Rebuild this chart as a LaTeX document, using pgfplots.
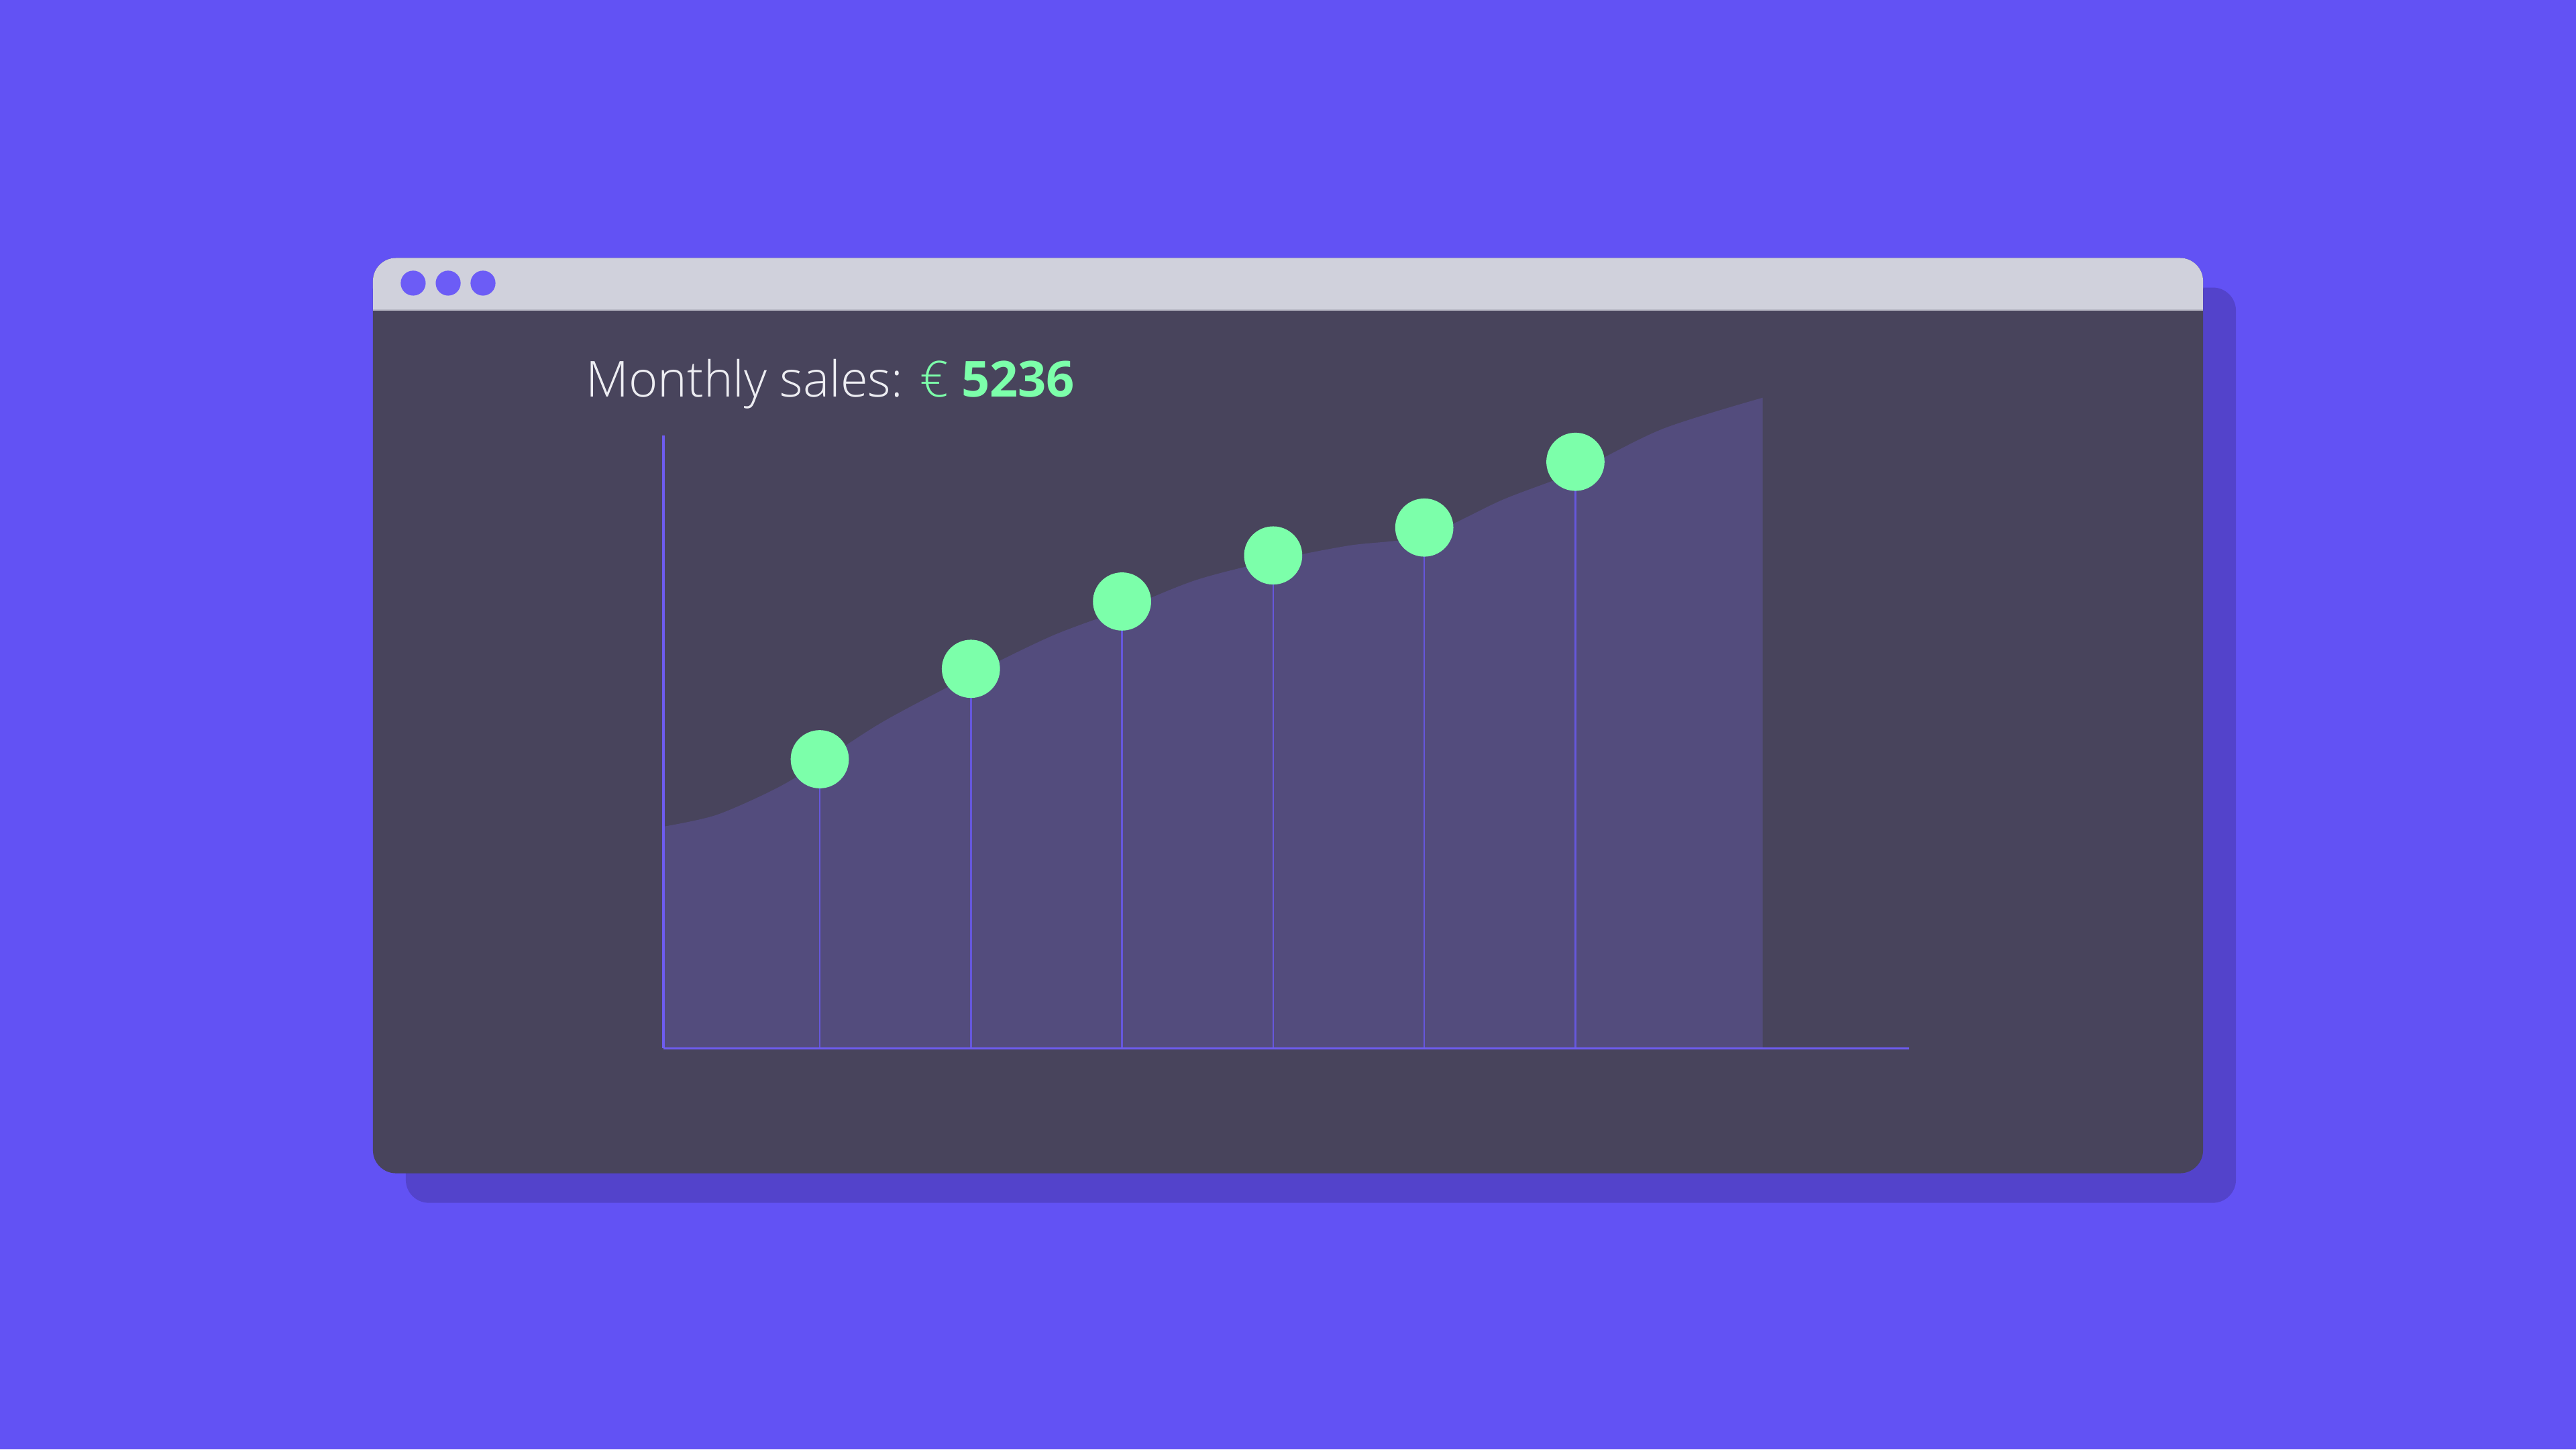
\documentclass[border=0pt]{standalone}
\usepackage{pgfplots}
\pgfplotsset{compat=1.18}
\usepackage{pgfplotstable}
\usepackage{fontspec}
\setmainfont{Open Sans}
\newfontfamily\lightfont{Open Sans Light}
\definecolor{bg}{HTML}{6252F4}
\definecolor{shadowc}{HTML}{5343CB}
\definecolor{body}{HTML}{48445C}
\definecolor{titlebar}{HTML}{D0D1DC}
\definecolor{tbline}{HTML}{B9B9C6}
\definecolor{dotc}{HTML}{6C5CF6}
\definecolor{areacol}{HTML}{534C7D}
\definecolor{axcol}{HTML}{6E5CF0}
\definecolor{stemcol}{HTML}{6657DC}
\definecolor{greenc}{HTML}{7CFFAA}
\definecolor{textc}{HTML}{EDEDF2}

\pgfplotstableread{
x y
-0.033 1980
0.315 2083
0.707 2317
1.0 2552
1.424 2920
2.0 3330
2.533 3680
3.0 3916
3.489 4180
4.0 4356
4.5 4488
5.0 4576
5.522 4899
6.0 5148
6.576 5529
7.239 5808
}\curvetab

\pgfplotstableread{
x y
1 2581
2 3388
3 3989
4 4400
5 4649
6 5236
}\pointtab

\begin{document}
\begin{tikzpicture}[x=0.1mm,y=0.1mm]
% background
\fill[bg] (0,0) rectangle (1568,882);
% shadow
\fill[shadowc, rounded corners=4] (247,150) rectangle (1361,707);
% window body
\fill[body, rounded corners=4] (227,168) rectangle (1341,725);
% title bar
\fill[titlebar, rounded corners=4] (227,693) rectangle (1341,725);
\fill[titlebar] (227,693) rectangle (1341,705);
\draw[tbline, line width=0.08mm] (227,693.3) -- (1341,693.3);
\fill[dotc] (251.5,709.7) circle (7.6);
\fill[dotc] (272.8,709.7) circle (7.6);
\fill[dotc] (294,709.7) circle (7.6);
% title
\node[anchor=base west, inner sep=0pt, font=\fontsize{8.6}{10}\selectfont] at (356,640.5)
  {\lightfont\color{textc}Monthly sales: \color{greenc}€ {\normalfont\bfseries 5236}};

\begin{axis}[
  at={(40.7mm,24.4mm)}, anchor=origin,
  scale only axis, width=75.8mm, height=37.3mm,
  xmin=-0.0326, xmax=8.207, ymin=0, ymax=5471,
  axis lines*=left,
  axis line style={draw=axcol, line width=0.16mm},
  ticks=none, clip=false, axis on top,
]
\addplot[fill=areacol, draw=none, smooth] table {\curvetab} \closedcycle;
\addplot[ycomb, draw=stemcol, line width=0.1mm, mark=none] table {\pointtab};
\addplot[only marks, mark=*, color=greenc, mark size=1.7mm] table {\pointtab};
\end{axis}
\end{tikzpicture}
\end{document}
